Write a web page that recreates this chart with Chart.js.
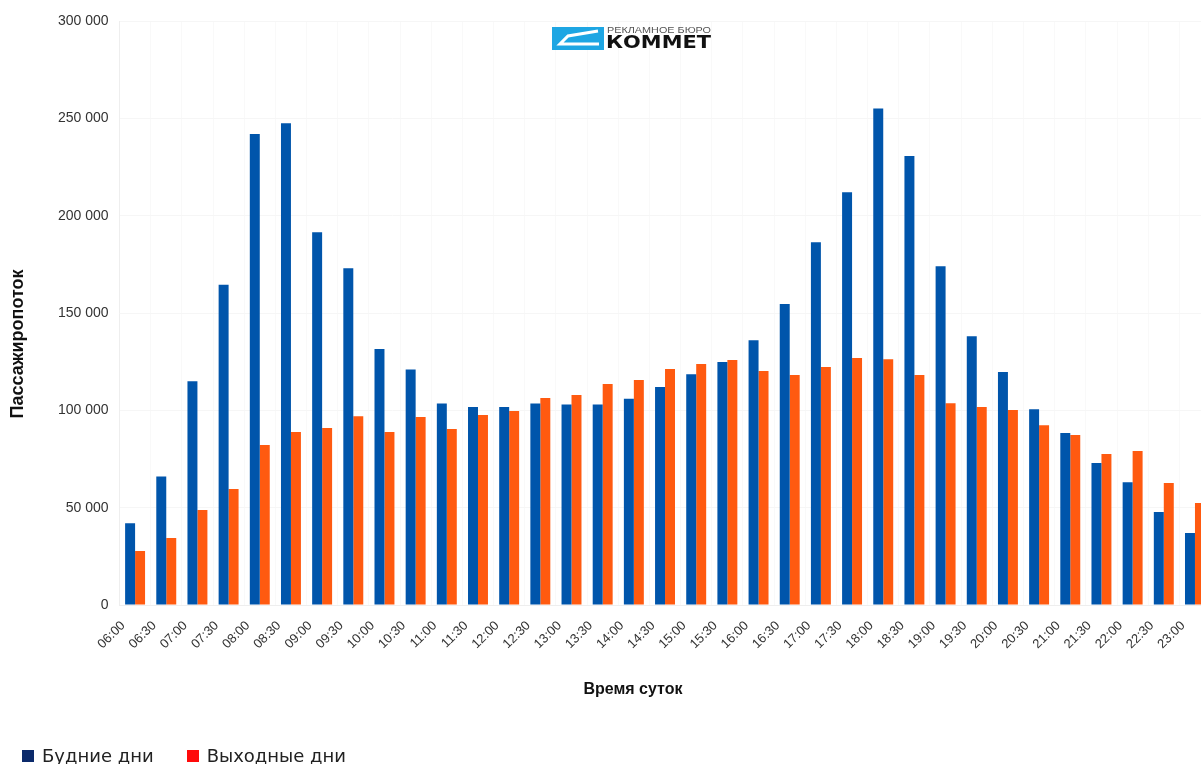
<!DOCTYPE html>
<html>
<head>
<meta charset="utf-8">
<script src="https://cdn.jsdelivr.net/npm/chart.js@4"></script>
<style>
    html, body { margin: 0; padding: 0; overflow: hidden; background: #fff; }
    #wrap { width: 1219px; height: 764px; position: relative; }
    #legend { position: absolute; left: 22px; top: 745px; font: 18px "DejaVu Sans"; color: #222; white-space: nowrap; }
    #legend span.item { display: inline-block; margin-right: 33px; }
    #legend i { display: inline-block; width: 12px; height: 12px; margin-right: 8px; vertical-align: 0px; }
</style>
</head>
<body>
<div id="wrap"><canvas id="chart"></canvas><div id="legend"></div></div>
<script>
// время суток
let times = ["06:00", "06:30", "07:00", "07:30", "08:00", "08:30", "09:00", "09:30", "10:00", "10:30",
    "11:00", "11:30", "12:00", "12:30", "13:00", "13:30", "14:00", "14:30", "15:00", "15:30",
    "16:00", "16:30", "17:00", "17:30", "18:00", "18:30", "19:00", "19:30", "20:00", "20:30",
    "21:00", "21:30", "22:00", "22:30", "23:00"];

let weekdays = [42000, 66000, 115000, 164500, 242000, 247500, 191500, 173000, 131500, 121000,
    103500, 101700, 101700, 103500, 103000, 103000, 106000, 112000, 118600, 124800,
    136000, 154600, 186400, 212000, 255000, 230600, 174000, 138000, 119700, 100500,
    88300, 73000, 63000, 47800, 37000];

let weekends = [27700, 34400, 48800, 59600, 82200, 88900, 90900, 97000, 88900, 96600,
    90400, 97600, 99600, 106300, 107900, 113500, 115600, 121200, 123800, 125800,
    120200, 118100, 122200, 126900, 126300, 118100, 103700, 101700, 100200, 92400,
    87300, 77600, 79100, 62700, 52400];

let y_ticks = [0, 50000, 100000, 150000, 200000, 250000, 300000];

function fmt(v) {
    return String(v).replace(/\B(?=(\d{3})+(?!\d))/g, ' ');
}

// подписи осей и логотип
let extras_plugin = {
    id: 'extras',
    afterDraw(chart) {
        let ctx = chart.ctx;
        ctx.save();
        ctx.fillStyle = '#111';
        ctx.textAlign = 'center';
        ctx.textBaseline = 'middle';
        ctx.font = 'bold 16px "Liberation Sans"';
        ctx.fillText('Время суток', 633, 690);
        ctx.translate(18, 344);
        ctx.rotate(-Math.PI / 2);
        ctx.font = 'bold 18px "Liberation Sans"';
        ctx.fillText('Пассажиропоток', 0, 0);
        ctx.restore();

        ctx.save();
        ctx.fillStyle = '#1ea6e3';
        ctx.fillRect(552, 27, 52, 23);
        ctx.strokeStyle = '#fff';
        ctx.lineWidth = 3;
        ctx.beginPath();
        ctx.moveTo(598, 31);
        ctx.lineTo(568, 36);
        ctx.lineTo(560, 44);
        ctx.lineTo(599, 44);
        ctx.stroke();
        ctx.textBaseline = 'middle';
        ctx.fillStyle = '#555';
        ctx.font = '9px "Liberation Sans"';
        let w = ctx.measureText('РЕКЛАМНОЕ БЮРО').width;
        ctx.save();
        ctx.translate(607, 31);
        ctx.scale(104 / w, 1);
        ctx.fillText('РЕКЛАМНОЕ БЮРО', 0, 0);
        ctx.restore();
        ctx.fillStyle = '#111';
        ctx.font = 'bold 17px "DejaVu Sans"';
        w = ctx.measureText('КОММЕТ').width;
        ctx.translate(606, 44);
        ctx.scale(105 / w, 1);
        ctx.fillText('КОММЕТ', 0, 0);
        ctx.restore();
    }
};

let chart = new Chart(document.getElementById('chart').getContext('2d'), {
    type: 'bar',
    data: {
        labels: times,
        datasets: [
            {label: 'Будние дни', data: weekdays, backgroundColor: '#0055ab', legendColor: '#0b2a6b'},
            {label: 'Выходные дни', data: weekends, backgroundColor: '#ff5a10', legendColor: '#ff0a0a'}
        ]
    },
    options: {
        responsive: true,
        maintainAspectRatio: false,
        animation: false,
        categoryPercentage: 0.64,
        barPercentage: 1.0,
        layout: {padding: {left: 10, top: 21, right: 0, bottom: 59}},
        plugins: {
            tooltip: {enabled: false},
            legend: {display: false}
        },
        scales: {
            x: {
                grid: {color: '#f9f9f9', drawTicks: false},
                border: {color: '#eeeeee'},
                ticks: {
                    minRotation: 45, maxRotation: 45, autoSkip: false, padding: 13, labelOffset: -12,
                    color: '#333', font: {family: '"Liberation Sans"', size: 13}
                },
                afterFit(scale) { scale.height = 100; }
            },
            y: {
                min: 0, max: 300000,
                grid: {color: '#f6f6f6', drawTicks: false},
                border: {color: '#eeeeee'},
                afterBuildTicks(scale) { scale.ticks = y_ticks.map(v => ({value: v})); },
                ticks: {
                    padding: 11, color: '#333',
                    font: {family: '"Liberation Sans"', size: 14},
                    callback: v => fmt(v)
                },
                afterFit(scale) { scale.width = 109.5; }
            }
        }
    },
    plugins: [extras_plugin]
});

// легенда снизу
document.getElementById('legend').innerHTML = chart.data.datasets.map(ds =>
    `<span class="item"><i style="background:${ds.legendColor}"></i>${ds.label}</span>`
).join('');
</script>
</body>
</html>
